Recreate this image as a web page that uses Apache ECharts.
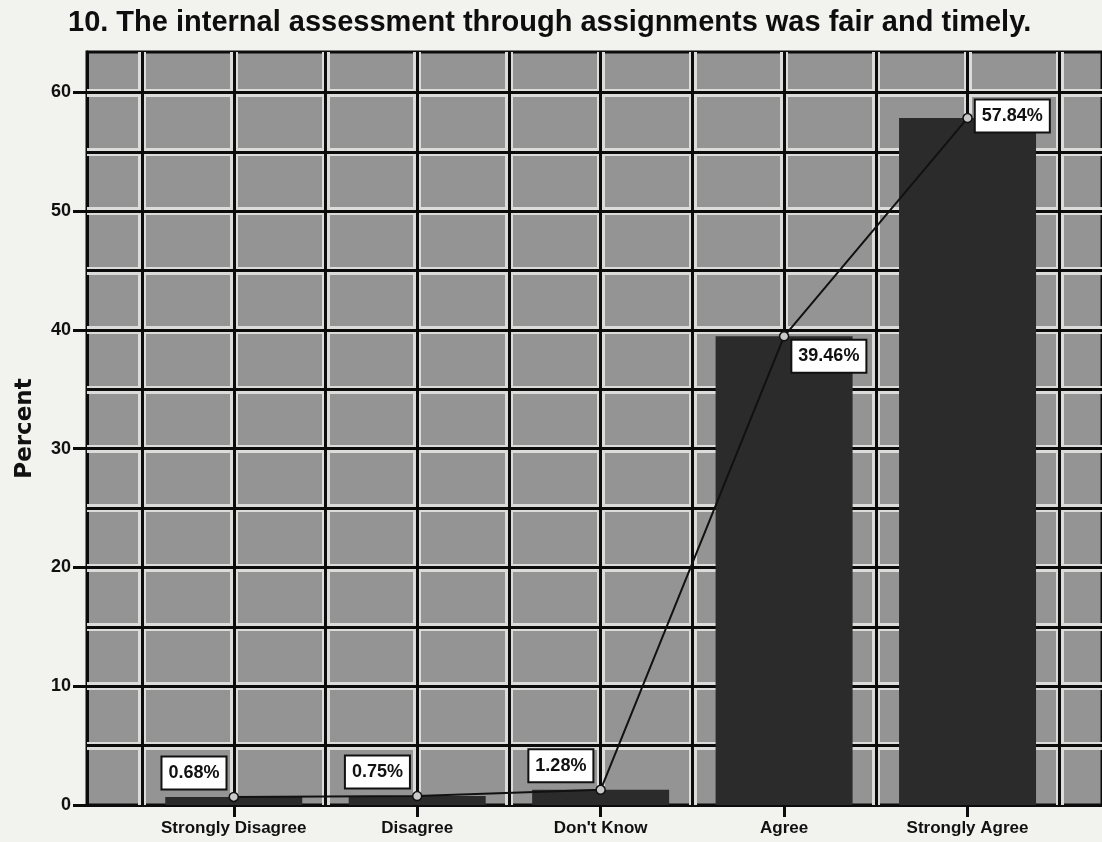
<!DOCTYPE html>
<html>
<head>
<meta charset="utf-8">
<script src="https://cdn.jsdelivr.net/npm/echarts@6/dist/echarts.min.js"></script>
<style>
  html, body { margin: 0; padding: 0; background: #f2f2ef; }
  #chart { width: 1102px; height: 842px; }
</style>
</head>
<body>
<div id="chart"></div>
<script>
// Survey item 10: share of responses per answer option
const categories = ['Strongly Disagree', 'Disagree', "Don't Know", 'Agree', 'Strongly Agree'];
const percents = [0.68, 0.75, 1.28, 39.46, 57.84];

// Axis ticks and the plot's grid lines (axis values)
const yTickValues = [0, 10, 20, 30, 40, 50, 60];
const yGridValues = [5, 10, 15, 20, 25, 30, 35, 40, 45, 50, 55, 60];
const xTickValues = [1, 2, 3, 4, 5];
const xGridValues = [0.5, 1, 1.5, 2, 2.5, 3, 3.5, 4, 4.5, 5, 5.5];

const FONT = '"Liberation Sans", Arial, sans-serif';

const points = categories.map((c, i) => [i + 1, percents[i]]);

// value-label placement: small values sit above-left of their marker,
// the two large ones to the right
function labelFor(i) {
  if (i < 3) return { position: 'left', distance: 3, offset: [0, -24] };
  if (i === 3) return { position: 'right', distance: 3, offset: [0, 20] };
  return { position: 'right', distance: 3, offset: [0, -2] };
}

// each grid line is a pale halo with a black rule on top
const haloStyle = { color: '#dcdcda', width: 8, type: 'solid' };
const ruleStyle = { color: '#0c0c0c', width: 3, type: 'solid' };
const gridLines = []
  .concat(xGridValues.map(v => ({ xAxis: v, lineStyle: haloStyle })))
  .concat(yGridValues.map(v => ({ yAxis: v, lineStyle: haloStyle })))
  .concat(xGridValues.map(v => ({ xAxis: v, lineStyle: ruleStyle })))
  .concat(yGridValues.map(v => ({ yAxis: v, lineStyle: ruleStyle })));

const chart = echarts.init(document.getElementById('chart'), null, { renderer: 'canvas' });

chart.setOption({
  animation: false,
  backgroundColor: '#f2f2ef',
  title: {
    text: '10. The internal assessment through assignments was fair and timely.',
    left: 63,
    top: 3,
    textStyle: { fontFamily: FONT, fontWeight: 'bold', fontSize: 29, color: '#0e0e0e' }
  },
  grid: {
    left: 87, right: -3, top: 52, bottom: 37,
    show: true,
    backgroundColor: '#949494',
    borderColor: '#0c0c0c',
    borderWidth: 3
  },
  xAxis: {
    type: 'value',
    min: 0.2,
    max: 5.733,
    splitLine: { show: false },
    axisLine: { show: true, onZero: false, lineStyle: { color: '#0c0c0c', width: 3 } },
    axisTick: { show: true, customValues: xTickValues, length: 12, lineStyle: { color: '#0c0c0c', width: 3 } },
    axisLabel: {
      customValues: xTickValues,
      formatter: v => categories[Math.round(v) - 1] || '',
      margin: 15,
      fontFamily: FONT, fontWeight: 'bold', fontSize: 17, color: '#111'
    }
  },
  yAxis: {
    type: 'value',
    min: 0,
    max: 63.4,
    name: 'Percent',
    nameLocation: 'middle',
    nameGap: 50,
    nameTextStyle: { fontFamily: '"DejaVu Sans", sans-serif', fontWeight: 'bold', fontSize: 23, color: '#111' },
    splitLine: { show: false },
    axisLine: { show: true, lineStyle: { color: '#0c0c0c', width: 3 } },
    axisTick: { show: true, customValues: yTickValues, length: 14, lineStyle: { color: '#0c0c0c', width: 3 } },
    axisLabel: {
      customValues: yTickValues,
      margin: 16,
      fontFamily: FONT, fontWeight: 'bold', fontSize: 18, color: '#111'
    }
  },
  series: [
    {
      // plot grid, kept underneath the bars and the line
      type: 'line',
      data: [],
      z: 1,
      silent: true,
      markLine: {
        z: 1,
        silent: true,
        symbol: 'none',
        animation: false,
        label: { show: false },
        emphasis: { disabled: true },
        data: gridLines
      }
    },
    {
      type: 'bar',
      data: points,
      barWidth: 137,
      z: 3,
      itemStyle: { color: '#2b2b2b' }
    },
    {
      type: 'line',
      data: points.map((p, i) => ({ value: p, label: labelFor(i) })),
      z: 6,
      symbol: 'circle',
      symbolSize: 9,
      lineStyle: { color: '#111', width: 2 },
      itemStyle: { color: '#c9c9c9', borderColor: '#111', borderWidth: 1.5 },
      label: {
        show: true,
        formatter: p => p.value[1].toFixed(2) + '%',
        fontFamily: FONT, fontWeight: 'bold', fontSize: 18, color: '#111',
        backgroundColor: '#ffffff',
        borderColor: '#111',
        borderWidth: 2,
        padding: [7, 6, 6, 6]
      }
    }
  ]
});
</script>
</body>
</html>
